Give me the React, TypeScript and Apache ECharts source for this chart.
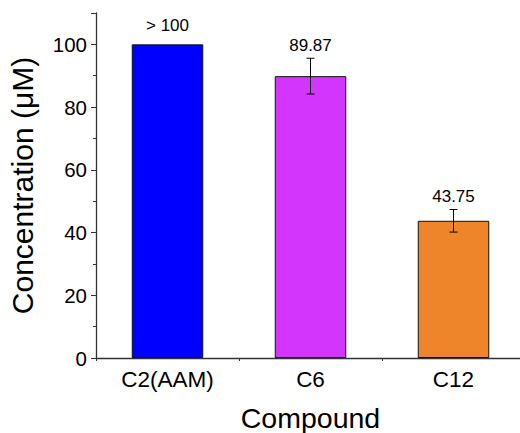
import React, { useEffect, useRef } from "react";
import * as echarts from "echarts";

const categories = ["C2(AAM)", "C6", "C12"];
const values = [100, 89.87, 43.75];
const errors = [0, 5.7, 3.6];
const valueLabels = ["> 100", "89.87", "43.75"];
const barColors = ["#0000FF", "#D335FC", "#EF852A"];
const yTicks = [0, 20, 40, 60, 80, 100];

const FONT = "'Liberation Sans', Arial, sans-serif";

export default function App() {
  const ref = useRef<HTMLDivElement>(null);
  useEffect(() => {
    if (!ref.current) return;
    const chart = echarts.init(ref.current, null, { renderer: "svg", width: 520, height: 433 });
    const option: any = {
      animation: false,
      backgroundColor: "#ffffff",
      textStyle: { fontFamily: FONT },
      grid: { left: 96, top: 13, bottom: 75, right: -5, containLabel: false, outerBoundsMode: "none" },
      xAxis: [
        {
          type: "category",
          data: categories,
          name: "Compound",
          nameLocation: "middle",
          nameGap: 45,
          nameTextStyle: { fontSize: 28.5, color: "#000", fontFamily: FONT },
          axisLine: { lineStyle: { color: "#333", width: 1.3 } },
          axisTick: { alignWithLabel: true, length: 5, lineStyle: { color: "#333" } },
          axisLabel: { fontSize: 22.5, color: "#000", margin: 10, fontFamily: FONT },
        },
        {
          type: "category",
          data: categories,
          position: "bottom",
          axisLine: { show: false },
          axisTick: { show: true, length: 3, lineStyle: { color: "#333" } },
          axisLabel: { show: false },
        },
      ],
      yAxis: {
        type: "value",
        min: 0,
        max: 110,
        interval: 20,
        name: "Concentration (μM)",
        nameLocation: "middle",
        nameGap: 59,
        nameTextStyle: { fontSize: 30, color: "#000", fontFamily: FONT },
        axisLine: { show: true, lineStyle: { color: "#333", width: 1.3 } },
        axisTick: { show: true, length: 5, lineStyle: { color: "#333" } },
        minorTick: { show: true, splitNumber: 2, length: 3, lineStyle: { color: "#333" } },
        splitLine: { show: false },
        axisLabel: {
          fontSize: 20.5,
          color: "#000",
          margin: 9,
          fontFamily: FONT,
          showMaxLabel: false,
          formatter: (v: number) => (yTicks.includes(v) ? String(v) : ""),
        },
      },
      series: [
        {
          type: "bar",
          barWidth: "50%",
          data: values.map((v, i) => ({
            value: v,
            itemStyle: { color: barColors[i], borderColor: "#111", borderWidth: 1 },
          })),
        },
        {
          type: "custom",
          data: values.map((v, i) => [i, v, errors[i]]),
          renderItem: (params: any, api: any) => {
            const idx = api.value(0);
            const v = api.value(1);
            const e = api.value(2);
            const top = api.coord([idx, v + e]);
            const bot = api.coord([idx, v - e]);
            const cap = 4;
            const children: any[] = [];
            if (e > 0) {
              const st = { stroke: "#000", lineWidth: 1 };
              children.push(
                { type: "line", shape: { x1: top[0], y1: top[1], x2: bot[0], y2: bot[1] }, style: st },
                { type: "line", shape: { x1: top[0] - cap, y1: top[1], x2: top[0] + cap, y2: top[1] }, style: st },
                { type: "line", shape: { x1: bot[0] - cap, y1: bot[1], x2: bot[0] + cap, y2: bot[1] }, style: st }
              );
            }
            const gap = e > 0 ? 4 : 10;
            children.push({
              type: "text",
              style: {
                text: valueLabels[params.dataIndex],
                x: top[0],
                y: top[1] - gap,
                textAlign: "center",
                textVerticalAlign: "bottom",
                fontSize: 17,
                fontFamily: FONT,
                fill: "#000",
              },
            });
            return { type: "group", children };
          },
          z: 10,
        },
      ],
    };
    chart.setOption(option);
    return () => chart.dispose();
  }, []);
  return (
    <div
      ref={ref}
      style={{ position: "fixed", left: 0, top: 0, width: 520, height: 433, background: "#fff" }}
    />
  );
}
